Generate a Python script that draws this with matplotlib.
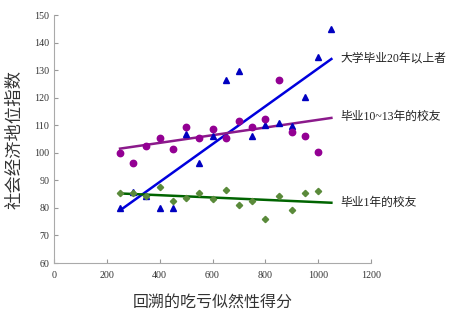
import numpy as np
import matplotlib.pyplot as plt

plt.rcParams['font.family'] = ['Liberation Serif', 'Noto Sans CJK SC']

# 大学毕业20年以上者 (blue triangles)
x_old = [250, 300, 350, 400, 450, 500, 550, 600, 650, 700, 750, 800, 850, 900, 950, 1000, 1050]
y_old = [80, 85.9, 84.3, 79.8, 80.1, 106.7, 96.4, 106, 126.4, 129.8, 106.1, 110.1, 111, 109.8, 120.1, 134.6, 144.8]

# 毕业10~13年的校友 (purple circles)
x_mid = [250, 300, 350, 400, 450, 500, 550, 600, 650, 700, 750, 800, 850, 900, 950, 1000]
y_mid = [99.9, 96.3, 102.5, 105.2, 101.3, 109.3, 105.3, 108.8, 105.5, 111.5, 109.5, 112.4, 126.6, 107.4, 106.1, 100.3]

# 毕业1年的校友 (green diamonds)
x_new = [250, 300, 350, 400, 450, 500, 550, 600, 650, 700, 750, 800, 850, 900, 950, 1000]
y_new = [85.4, 85.5, 84.5, 87.7, 82.5, 83.7, 85.3, 83.2, 86.5, 81.2, 82.6, 75.8, 84.3, 79.1, 85.3, 86.1]

labels = ['大学毕业20年以上者', '毕业10~13年的校友', '毕业1年的校友']
fit_x = np.array([250, 1050])

fig = plt.figure(figsize=(4.55, 3.14), dpi=100)
ax = fig.add_axes([0.1187, 0.1624, 0.6967, 0.7896])

series = [
    (x_old, y_old, '^', '#0000c0', '#0000dd', 4.2, labels[0]),
    (x_mid, y_mid, 'o', '#930093', '#8b1a8b', 4.6, labels[1]),
    (x_new, y_new, 'D', '#5a8a3a', '#006400', 3.2, labels[2]),
]
for xs, ys, mk, mcol, lcol, ms, lab in series:
    k, b = np.polyfit(xs, ys, 1)
    ax.plot(fit_x, k * fit_x + b, color=lcol, lw=1.8, zorder=2)
    ax.plot(xs, ys, mk, color=mcol, ms=ms, mec=mcol, zorder=3)
    ax.text(1085, k * 1050 + b + (0.3 if mk != 'D' else 0.0), lab,
            fontsize=8.5, va='center', ha='left', color='#222222')

ax.set_xlim(0, 1200)
ax.set_ylim(60, 150)
ax.set_xticks(range(0, 1201, 200))
ax.set_yticks(range(60, 151, 10))
ax.tick_params(direction='in', length=3, color='#999999', labelsize=7.2,
               labelcolor='#333333')
ax.tick_params(axis='x', pad=6)
for s in ['top', 'right']:
    ax.spines[s].set_visible(False)
for s in ['left', 'bottom']:
    ax.spines[s].set_color('#aaaaaa')

ax.set_xlabel('回溯的吃亏似然性得分', fontsize=11.5, color='#333333', labelpad=10)
ax.set_ylabel('社会经济地位指数', fontsize=12.5, color='#333333', labelpad=8)

fig.savefig('out.png', dpi=100)
